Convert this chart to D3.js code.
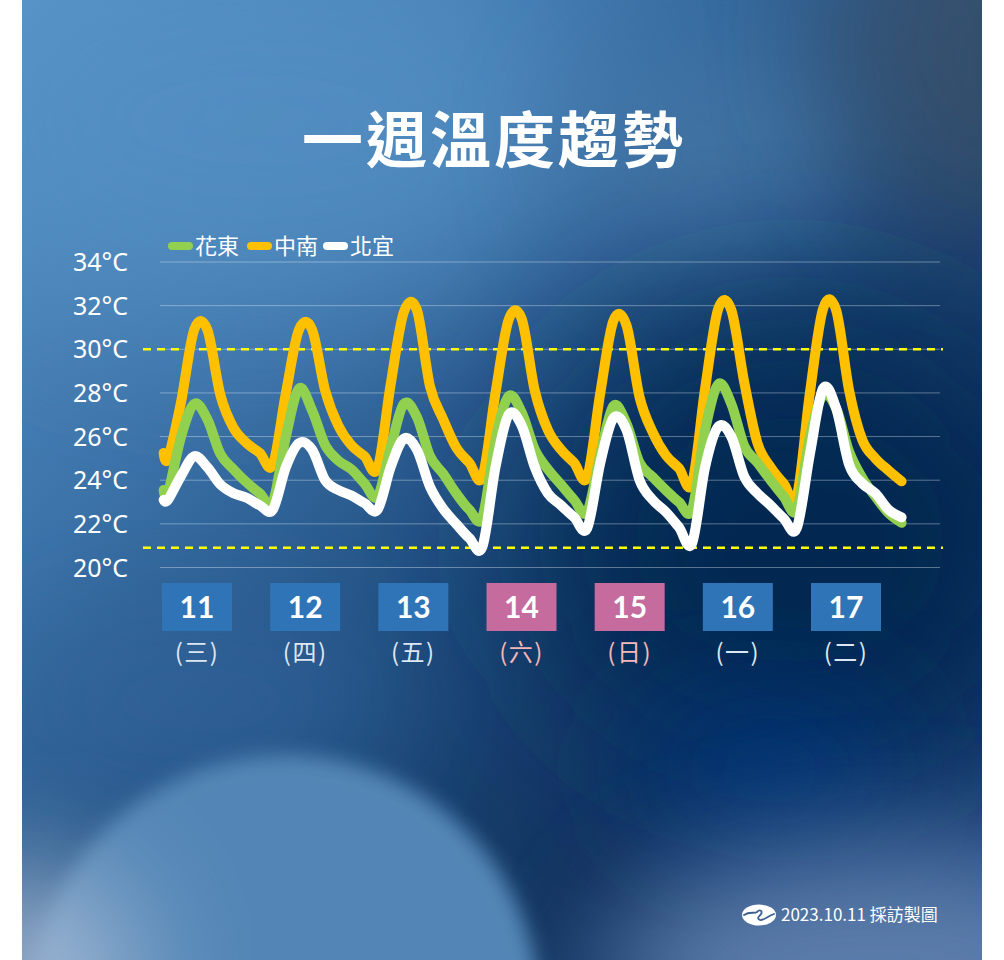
<!DOCTYPE html>
<html><head><meta charset="utf-8">
<script src="https://cdn.jsdelivr.net/npm/d3@7"></script>
<style>html,body{margin:0;padding:0;background:#fff;}svg{display:block;}</style>
</head><body>
<svg id="chart" width="1004" height="960"></svg>
<script>
// ---------- data ----------
const title = "一週溫度趨勢";
const seriesNames = ["花東", "中南", "北宜"];
const seriesColors = ["#92d050", "#ffc000", "#ffffff"];
const yTicks = [20, 22, 24, 26, 28, 30, 32, 34];
const thresholds = [30, 20.9];
// hours since 10/11 00:00
const hours = [5,6,9,12,15,18,21,24,27,30,33,36,39,42,45,48,51,54,57,60,63,66,69,72,75,78,81,84,87,90,93,96,99,102,105,108,111,114,117,120,123,126,129,132,135,138,141,144,147,150,153,156,159,162,165,168,171,174];
const huadong = [23.55,23.4,26.0,27.5,26.8,25.2,24.5,23.9,23.4,23.0,26.0,28.2,27.2,25.6,24.9,24.5,23.85,23.25,25.5,27.5,26.9,25.1,24.3,23.4,22.65,22.3,25.85,27.85,27.1,25.4,24.5,23.8,23.1,22.55,25.2,27.4,26.6,24.8,24.15,23.55,23.0,22.65,26.3,28.4,27.5,25.55,24.8,24.0,23.25,22.65,26.0,27.9,27.3,25.3,24.1,23.25,22.5,22.05];
const zhongnan = [25.25,25.0,27.6,30.9,30.9,27.9,26.4,25.7,25.25,24.7,28.0,30.9,30.9,28.1,26.5,25.6,25.1,24.55,28.4,31.7,31.8,28.3,26.8,25.5,24.8,24.15,28.0,31.35,31.4,28.1,26.3,25.4,24.8,24.15,28.0,31.3,31.1,27.8,26.2,25.15,24.55,23.85,28.2,31.85,31.8,28.45,25.7,24.6,23.85,23.25,28.0,31.85,31.8,28.1,25.85,25.0,24.45,23.95];
const beiyi = [23.1,23.1,24.2,25.1,24.6,23.8,23.4,23.2,22.85,22.65,24.6,25.7,25.4,24.0,23.55,23.3,22.95,22.65,24.6,25.9,25.4,23.7,22.7,22.0,21.35,20.95,24.6,27.0,26.5,24.6,23.4,22.85,22.3,21.8,24.8,26.85,26.3,24.0,23.1,22.55,21.85,21.1,24.6,26.45,26.0,24.15,23.4,22.85,22.25,21.8,25.2,28.2,27.3,24.7,23.85,23.4,22.65,22.3];
const days = ["11", "12", "13", "14", "15", "16", "17"];
const weekdays = ["(三)", "(四)", "(五)", "(六)", "(日)", "(一)", "(二)"];
const weekend = [false, false, false, true, true, false, false];
const footer = "2023.10.11 採訪製圖";

// ---------- setup ----------
const svg = d3.select("#chart");
const defs = svg.append("defs");
defs.append("clipPath").attr("id", "card").append("rect").attr("x", 22).attr("y", 0).attr("width", 960).attr("height", 960);

const lg = defs.append("linearGradient").attr("id", "base").attr("x1", 0).attr("y1", 0).attr("x2", 1).attr("y2", 1);
[[0, "#5b96c9"], [0.3, "#3b72a8"], [0.55, "#1d4a7b"], [0.75, "#12345f"], [1, "#1b4479"]].forEach(s => lg.append("stop").attr("offset", s[0]).attr("stop-color", s[1]));

function blur(id, sd) {
  defs.append("filter").attr("id", id).attr("x", "-50%").attr("y", "-50%").attr("width", "200%").attr("height", "200%")
    .append("feGaussianBlur").attr("stdDeviation", sd);
}
blur("b60", 60); blur("b30", 30); blur("b12", 10); blur("b80", 80);

const bg = svg.append("g").attr("clip-path", "url(#card)");
bg.append("rect").attr("x", 22).attr("y", 0).attr("width", 960).attr("height", 960).attr("fill", "url(#base)");
bg.append("ellipse").attr("cx", 260).attr("cy", 120).attr("rx", 330).attr("ry", 200).attr("fill", "#5590c4").attr("opacity", 0.8).attr("filter", "url(#b80)");
bg.append("ellipse").attr("cx", 720).attr("cy", 150).attr("rx", 150).attr("ry", 120).attr("fill", "#4a7cab").attr("opacity", 0.7).attr("filter", "url(#b60)");
bg.append("ellipse").attr("cx", 990).attr("cy", 40).attr("rx", 160).attr("ry", 200).attr("fill", "#3b4f68").attr("opacity", 0.75).attr("filter", "url(#b60)");
bg.append("ellipse").attr("cx", 790).attr("cy", 540).attr("rx", 260).attr("ry", 230).attr("fill", "#052650").attr("opacity", 0.9).attr("filter", "url(#b80)");
bg.append("ellipse").attr("cx", 770).attr("cy", 770).attr("rx", 140).attr("ry", 80).attr("fill", "#00357a").attr("opacity", 0.8).attr("filter", "url(#b60)");
bg.append("ellipse").attr("cx", 880).attr("cy", 975).attr("rx", 270).attr("ry", 130).attr("fill", "#6384b2").attr("opacity", 0.9).attr("filter", "url(#b60)");
bg.append("ellipse").attr("cx", 200).attr("cy", 700).attr("rx", 200).attr("ry", 90).attr("fill", "#30639a").attr("opacity", 0.7).attr("filter", "url(#b60)");
bg.append("circle").attr("cx", 285).attr("cy", 1010).attr("r", 255).attr("fill", "#5386b6").attr("filter", "url(#b12)");
bg.append("circle").attr("cx", 30).attr("cy", 975).attr("r", 110).attr("fill", "#a8bcd6").attr("opacity", 0.9).attr("filter", "url(#b60)");

// ---------- scales ----------
const x = d3.scaleLinear().domain([6, 174]).range([168, 901.6]);
const y = d3.scaleLinear().domain([20, 34]).range([567.5, 262]);
const xd = d3.scalePoint().domain(days).range([197, 846]);

// title
svg.append("text").attr("x", 494).attr("y", 163).attr("text-anchor", "middle")
  .attr("font-family", "'Noto Sans CJK TC', sans-serif").attr("font-weight", 700).attr("font-size", 61)
  .attr("letter-spacing", 3).attr("fill", "#fff").text(title);

// grid
const g = svg.append("g");
g.selectAll("line.grid").data(yTicks).join("line").attr("class", "grid")
  .attr("x1", 160).attr("x2", 940).attr("y1", d => y(d)).attr("y2", d => y(d))
  .attr("stroke", "rgba(255,255,255,0.35)").attr("stroke-width", 1);
g.selectAll("text.yl").data(yTicks).join("text").attr("class", "yl")
  .attr("x", 128).attr("y", d => y(d)).attr("dy", "0.36em").attr("text-anchor", "end")
  .attr("font-family", "'Noto Sans', sans-serif").attr("font-size", 25).attr("fill", "#fff")
  .text(d => d + "°C");
g.selectAll("line.th").data(thresholds).join("line").attr("class", "th")
  .attr("x1", 143).attr("x2", 943).attr("y1", d => y(d)).attr("y2", d => y(d))
  .attr("stroke", "#ffff00").attr("stroke-width", 2.5).attr("stroke-dasharray", "8,6");

// lines
const series = [
  { name: seriesNames[1], color: seriesColors[1], values: zhongnan },
  { name: seriesNames[0], color: seriesColors[0], values: huadong },
  { name: seriesNames[2], color: seriesColors[2], values: beiyi }
];
const line = d3.line().x((d, i) => x(hours[i])).y(d => y(d)).curve(d3.curveCatmullRom.alpha(0));
svg.append("g").selectAll("path").data(series).join("path")
  .attr("d", d => line(d.values)).attr("fill", "none").attr("stroke", d => d.color)
  .attr("stroke-width", 10).attr("stroke-linecap", "round").attr("stroke-linejoin", "round");

// legend
const legendX = [172, 251, 327];
const leg = svg.append("g").selectAll("g").data(seriesNames).join("g")
  .attr("transform", (d, i) => `translate(${legendX[i]},246)`);
leg.append("line").attr("x1", 0).attr("x2", 17).attr("y1", 0).attr("y2", 0)
  .attr("stroke", (d, i) => seriesColors[i]).attr("stroke-width", 8).attr("stroke-linecap", "round");
leg.append("text").attr("x", 23).attr("y", 0).attr("dy", "0.36em")
  .attr("font-family", "'Noto Sans CJK TC', sans-serif").attr("font-size", 22).attr("fill", "#fff").text(d => d);

// date boxes
const db = svg.append("g").selectAll("g").data(days).join("g")
  .attr("transform", d => `translate(${xd(d)},0)`);
db.append("rect").attr("x", -35).attr("y", 583).attr("width", 70).attr("height", 48)
  .attr("fill", (d, i) => weekend[i] ? "#c66b9e" : "#2e74b6");
db.append("text").attr("x", 0).attr("y", 607).attr("dy", "0.36em").attr("text-anchor", "middle")
  .attr("font-family", "Lato, sans-serif").attr("font-weight", 700).attr("font-size", 30).attr("fill", "#fff").text(d => d);
db.append("text").attr("x", 0).attr("y", 652).attr("dy", "0.36em").attr("text-anchor", "middle")
  .attr("font-family", "'Noto Sans CJK TC', sans-serif").attr("font-size", 24).attr("letter-spacing", 1.5)
  .attr("fill", (d, i) => weekend[i] ? "#f6b7b7" : "#dde7f3").text((d, i) => weekdays[i]);

// footer
const f = svg.append("g");
f.append("ellipse").attr("cx", 759).attr("cy", 915).attr("rx", 17).attr("ry", 10.5).attr("fill", "#fff");
f.append("path").attr("d", "M744,915 C750,911 754,914 757,912 C760,909 763,911 761,914 C759,917 756,918 760,920 C763,921 768,916 774,914")
  .attr("fill", "none").attr("stroke", "#3a5f90").attr("stroke-width", 1.8).attr("stroke-linecap", "round");
f.append("text").attr("x", 781).attr("y", 915).attr("dy", "0.36em")
  .attr("font-family", "'Noto Sans CJK TC', sans-serif").attr("font-size", 17).attr("fill", "#fff").text(footer);
</script>
</body></html>
